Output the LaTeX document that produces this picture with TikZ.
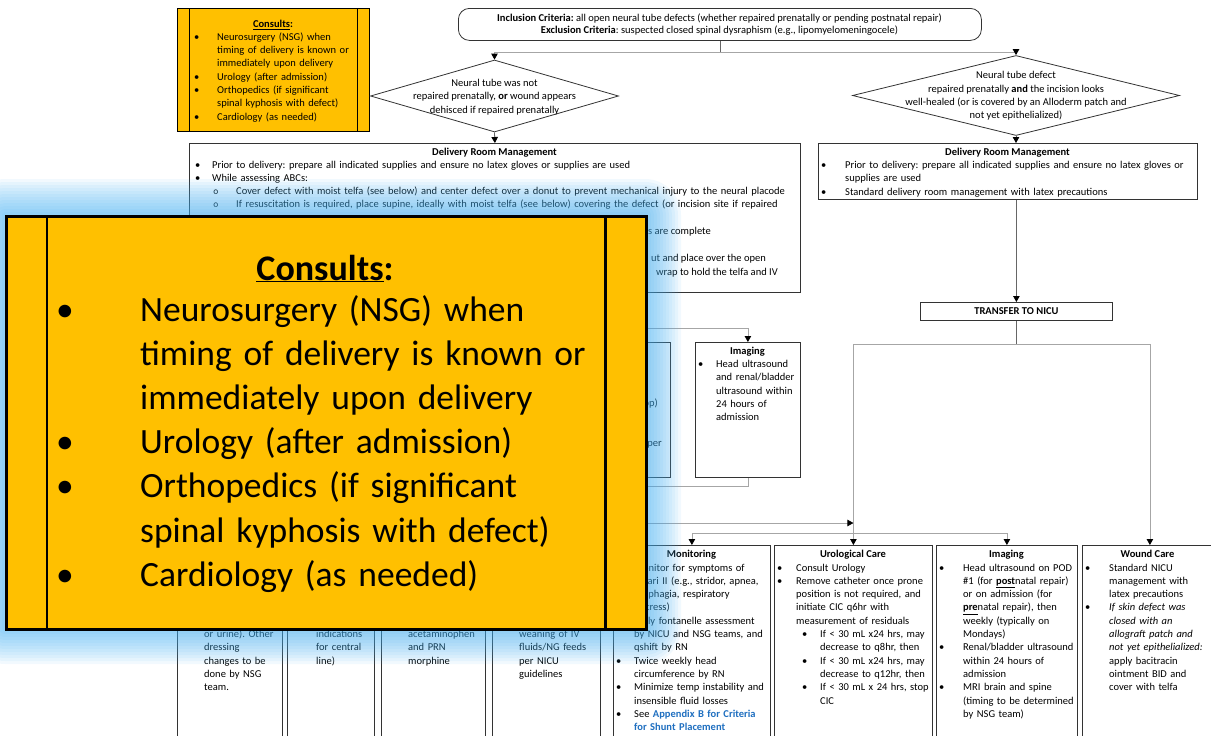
\documentclass[tikz,border=0pt]{standalone}
\usepackage{fontspec}
\setmainfont{Carlito}
\usepackage{xcolor}
\usepackage{tikz}
\usetikzlibrary{
	arrows.meta,
	positioning,
	calc,
	shapes.geometric
}

\definecolor{consultorange}{HTML}{FFC000}
\definecolor{glowblue}{HTML}{45B0F2}
\definecolor{linkblue}{HTML}{1F6FC0}
\definecolor{linegray}{HTML}{A6A6A6}

\frenchspacing
\newcommand{\itm}[4][\textbullet]{\unskip\noindent\hangindent=#3pt\hangafter=1\makebox[#3pt][l]{\hspace*{#2pt}#1}\ignorespaces#4\par}

\begin{document}
\begin{tikzpicture}[x=1pt, y=-1pt,
	box/.style={draw=black!80, line width=0.8pt, fill=white, inner sep=0pt, anchor=north west},
	dia/.style={diamond, draw=black!80, line width=0.8pt, fill=white, inner sep=0pt},
	txt/.style={inner sep=0pt, anchor=base west, text width=700pt, font=\fontsize{10.5}{13.3}\selectfont},
	ttl/.style={inner sep=0pt, anchor=base, font=\fontsize{10.5}{13.3}\selectfont\bfseries},
	line/.style={inner sep=0pt, anchor=base, font=\fontsize{10.5}{13.3}\selectfont},
	ctr/.style={inner sep=0pt, align=center, font=\fontsize{10.5}{13.3}\selectfont},
	frag/.style={inner sep=0pt, anchor=base east, font=\fontsize{10.5}{13.3}\selectfont},
	conn/.style={draw=linegray, line width=0.8pt},
	stem/.style={draw=black!60, line width=0.8pt},
	arr/.style={-{Triangle[length=6pt, width=6.5pt, color=black]}}
	]
	
	\useasboundingbox (0,0) rectangle (1211,736);
	
	\node[box, fill=consultorange, draw=black, line width=0.9pt, minimum width=192pt, minimum height=123pt] (smallC) at (177,8) {};
	\draw[line width=0.9pt] ([xshift=12.6pt]smallC.north west) -- ([xshift=12.6pt]smallC.south west);
	\draw[line width=0.9pt] ([xshift=-12.6pt]smallC.north east) -- ([xshift=-12.6pt]smallC.south east);
	\node[ttl] (smallCt) at (273,27.5) {\underline{Consults}:};
	\node[txt] (smallCl) at (177,40.3) {
		\itm{17}{40}{Neurosurgery (NSG) when\newline timing of delivery is known or\newline immediately upon delivery}
		\itm{17}{40}{Urology (after admission)}
		\itm{17}{40}{Orthopedics (if significant\newline spinal kyphosis with defect)}
		\itm{17}{40}{Cardiology (as needed)}};
	
	\node[box, rounded corners=11pt, minimum width=523pt, minimum height=32pt] (crit) at (458,8) {};
	\node[line] (critA) at (719.5,21) {\textbf{Inclusion Criteria:} all open neural tube defects (whether repaired prenatally or pending postnatal repair)};
	\node[line] (critB) at (719.5,34) {\textbf{Exclusion Criteria}: suspected closed spinal dysraphism (e.g., lipomyelomeningocele)};
	
	\node[dia, minimum width=248pt, minimum height=72pt] (dL) at (494.5,96) {};
	\node[ctr] (dLt) at (494.5,97) {Neural tube was not\\repaired prenatally, \textbf{or} wound appears\\dehisced if repaired prenatally};
	\node[dia, minimum width=327pt, minimum height=80pt] (dR) at (1016,95.5) {};
	\node[ctr] (dRt) at (1016,96) {Neural tube defect\\repaired prenatally \textbf{and} the incision looks\\well-healed (or is covered by an Alloderm patch and\\not yet epithelialized)};
	
	\node[box, minimum width=611pt, minimum height=149pt] (drmL) at (189,143) {};
	\node[ttl] (drmLt) at (494.5,155.5) {Delivery Room Management};
	\node[txt] (drmLl) at (189,168) {
		\itm{6}{23}{Prior to delivery: prepare all indicated supplies and ensure no latex gloves or supplies are used}
		\itm{6}{23}{While assessing ABCs:}
		\itm[\texttt{o}]{24}{47}{Cover defect with moist telfa (see below) and center defect over a donut to prevent mechanical injury to the neural placode}
		\itm[\texttt{o}]{24}{47}{If resuscitation is required, place supine, ideally with moist telfa (see below) covering the defect (or incision site if repaired}};
	\node[frag] (drmLa) at (711,234.5) {s are complete};
	\node[frag] (drmLb) at (766,261.5) {ut and place over the open};
	\node[frag] (drmLc) at (778,275) {wrap to hold the telfa and IV};
	
	\node[box, minimum width=379pt, minimum height=56pt] (drmR) at (818,143) {};
	\node[ttl] (drmRt) at (1007.5,155.5) {Delivery Room Management};
	\node[txt] (drmRl) at (818,168.5) {
		\itm{3}{27}{Prior to delivery: prepare all indicated supplies and ensure no latex gloves or\newline supplies are used}
		\itm{3}{27}{Standard delivery room management with latex precautions}};
	
	\node[box, minimum width=192pt, minimum height=18pt, font=\fontsize{10.5}{13.3}\selectfont\bfseries] (nicu) at (920,302) {TRANSFER TO NICU};
	
	\node[box, minimum width=110pt, minimum height=135pt] (midB) at (560,342) {};
	\node[frag] (midBa) at (658,406.5) {op)};
	\node[frag] (midBb) at (662,446) {per};
	\node[box, minimum width=105pt, minimum height=135pt] (img1) at (695,342) {};
	\node[ttl] (img1t) at (747.5,354.5) {Imaging};
	\node[txt] (img1l) at (695,367.5) {\itm{3}{21}{Head ultrasound\newline and renal/bladder\newline ultrasound within\newline 24 hours of\newline admission}};
	
	\node[box, minimum width=105pt, minimum height=200pt] (boxA) at (177,545) {};
	\node[box, minimum width=87pt, minimum height=200pt] (boxB) at (287,545) {};
	\node[box, minimum width=104pt, minimum height=200pt] (boxC) at (381,545) {};
	\node[box, minimum width=108pt, minimum height=200pt] (boxD) at (492,545) {};
	\node[txt] (boxAl) at (204,637.5) {or urine). Other\newline dressing\newline changes to be\newline done by NSG\newline team.};
	\node[txt] (boxBl) at (316,637.5) {indications\newline for central\newline line)};
	\node[txt] (boxCl) at (408,637.5) {acetaminophen\newline and PRN\newline morphine};
	\node[txt] (boxDl) at (519,637.5) {weaning of IV\newline fluids/NG feeds\newline per NICU\newline guidelines};
	
	\node[box, minimum width=157pt, minimum height=200pt] (mon) at (613,545) {};
	\node[ttl] (mont) at (691.5,557.5) {Monitoring};
	\node[txt] (monl) at (613,571) {
		\itm{3}{21}{Monitor for symptoms of\newline Chiari II (e.g., stridor, apnea,\newline dysphagia, respiratory\newline distress)}
		\itm{3}{21}{Daily fontanelle assessment\newline by NICU and NSG teams, and\newline qshift by RN}
		\itm{3}{21}{Twice weekly head\newline circumference by RN}
		\itm{3}{21}{Minimize temp instability and\newline insensible fluid losses}
		\itm{3}{21}{See {\color{linkblue}\bfseries Appendix B for Criteria\newline for Shunt Placement}}};
	
	\node[box, minimum width=158pt, minimum height=200pt] (uro) at (774,545) {};
	\node[ttl] (urot) at (853,557.5) {Urological Care};
	\node[txt] (urol) at (774,571) {
		\itm{3}{22}{Consult Urology}
		\itm{3}{22}{Remove catheter once prone\newline position is not required, and\newline initiate CIC q6hr with\newline measurement of residuals}
		\itm{28}{46}{If < 30 mL x24 hrs, may\newline decrease to q8hr, then}
		\itm{28}{46}{If < 30 mL x24 hrs, may\newline decrease to q12hr, then}
		\itm{28}{46}{If < 30 mL x 24 hrs, stop\newline CIC}};
	
	\node[box, minimum width=141pt, minimum height=200pt] (img2) at (936,545) {};
	\node[ttl] (img2t) at (1006.5,557.5) {Imaging};
	\node[txt] (img2l) at (936,571) {
		\itm{3}{27}{Head ultrasound on POD\newline \#1 (for \underline{\textbf{post}}natal repair)\newline or on admission (for\newline \underline{\textbf{pre}}natal repair), then\newline weekly (typically on\newline Mondays)}
		\itm{3}{27}{Renal/bladder ultrasound\newline within 24 hours of\newline admission}
		\itm{3}{27}{MRI brain and spine\newline (timing to be determined\newline by NSG team)}};
	
	\node[box, minimum width=135pt, minimum height=200pt] (wc) at (1082,545) {};
	\node[ttl] (wct) at (1147.5,557.5) {Wound Care};
	\node[txt] (wcl) at (1082,571) {
		\itm{3}{27}{Standard NICU\newline management with\newline latex precautions}
		\itm{3}{27}{\textit{If skin defect was\newline closed with an\newline allograft patch and\newline not yet epithelialized:}\newline apply bacitracin\newline ointment BID and\newline cover with telfa}};
	
	\draw[stem] (crit.south) -- ++(0,12) coordinate (sp1);
	\draw[conn, arr] (sp1) -| (dL.north);
	\draw[conn, arr] (sp1) -| (dR.north);
	\draw[stem, arr] (dL.south) -- (drmL.north);
	\draw[stem, arr] (dR.south) -- (dR.south |- drmR.north);
	\draw[stem, arr] (nicu.north |- drmR.south) -- (nicu.north);
	\draw[stem] (nicu.south) -- ++(0,24) coordinate (sp2);
	\draw[conn, arr] (sp2) -| (wc.north);
	\draw[conn, arr] (sp2) -| (uro.north);
	\coordinate (sp3) at ($(uro.north)+(0,-12)$);
	\draw[conn, arr] (sp3) -| (mon.north);
	\draw[conn, arr] (sp3) -| (img2.north);
	\draw[stem] (drmL.south) -- ++(0,36) coordinate (sp4);
	\draw[conn, arr] (sp4) -| (img1.north);
	\draw[conn, arr] (sp4) -| (midB.north);
	\coordinate (mg1) at (494.5,486);
	\coordinate (mg2) at (494.5,523);
	\draw[conn] (img1.south) |- (mg1);
	\draw[conn] (midB.south) |- (mg1);
	\draw[conn, arr] (mg1) -- (mg2) -- (mg2 -| uro.north);
	
	\foreach \g in {1,...,12}
		\fill[glowblue, fill opacity=0.07, rounded corners=\g*3pt] (5-3*\g,215-3*\g) rectangle (645+3*\g,628+3*\g);
	
	\node[box, fill=consultorange, draw=black, line width=2.6pt, minimum width=640pt, minimum height=413pt] (bigC) at (5,215) {};
	\draw[line width=2.6pt] ([xshift=42pt]bigC.north west) -- ([xshift=42pt]bigC.south west);
	\draw[line width=2.6pt] ([xshift=-42pt]bigC.north east) -- ([xshift=-42pt]bigC.south east);
	\node[ttl, font=\fontsize{36}{44}\selectfont\bfseries] (bigCt) at (325,280) {\underline{Consults}:};
	\node[txt, font=\fontsize{35.5}{44.2}\selectfont] (bigCl) at (5,321) {
		\itm{51}{135}{Neurosurgery (NSG) when\newline timing of delivery is known or\newline immediately upon delivery}
		\itm{51}{135}{Urology (after admission)}
		\itm{51}{135}{Orthopedics (if significant\newline spinal kyphosis with defect)}
		\itm{51}{135}{Cardiology (as needed)}};
	
\end{tikzpicture}
\end{document}
